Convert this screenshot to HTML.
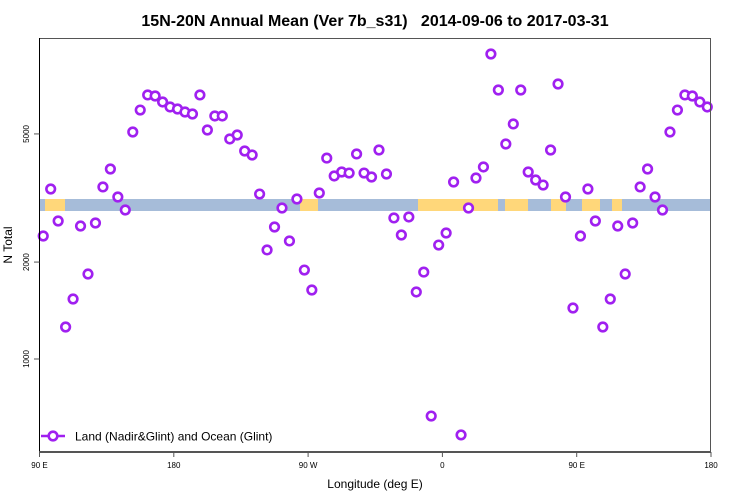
<!DOCTYPE html>
<html><head><meta charset="utf-8"><style>
body{margin:0;background:#fff;font-family:"Liberation Sans",sans-serif}
svg{display:block}
</style></head><body>
<svg id="c" width="750" height="500" font-family="Liberation Sans, sans-serif">
<text x="375" y="26" text-anchor="middle" font-size="16" font-weight="bold">15N-20N Annual Mean (Ver 7b_s31)&#160;&#160;&#160;2014-09-06 to 2017-03-31</text>
<g id="band"></g>
<g id="pts"></g>
<rect x="39.5" y="38.5" width="671" height="413" fill="none" stroke="#555" stroke-width="1"/>
<line x1="39.5" y1="38" x2="39.5" y2="452" stroke="#000"/>
<line x1="39" y1="452" x2="711" y2="452" stroke="#555" stroke-width="2"/>
<g id="xt"></g>
<g id="yt"></g>
<text x="375" y="488" text-anchor="middle" font-size="12">Longitude (deg E)</text>
<text transform="translate(12,245) rotate(-90)" text-anchor="middle" font-size="12">N Total</text>
<g>
<line x1="41" y1="436" x2="65" y2="436" stroke="#a020f0" stroke-width="2.5"/>
<circle cx="53" cy="436" r="4.3" fill="#fff" stroke="#a020f0" stroke-width="2.6"/>
<text x="75" y="440.5" font-size="12">Land (Nadir&amp;Glint) and Ocean (Glint)</text>
</g>
</svg>
<script>
const lons=[];for(let i=0;i<72;i++)lons.push(92.5+5*i);
const values=[2410,3373,2683,1257,1536,2588,1836,2645,3422,3891,3185,2902,5070,5931,6607,6558,6284,6063,5975,5848,5766,6607,5142,5685,5685,4823,4962,4426,4301,3253,2181,2570,2944,2326,3140,1889,1638,3277,4207,3702,3808,3780,4333,3780,3675,4457,3754,2742,2427,2761,1615,1862,665,2259,2462,3546,581,2944,3648,3948,8854,6845,4653,5370,6845,3808,3596,3469,4457,7145,3185,1440];
const xTickVals=[90,180,270,360,450,540];
const xTickLabels=["90 E","180","90 W","0","90 E","180"];
const yTickVals=[1000,2000,5000];
const yTickLabels=["1000","2000","5000"];
const X0=39.5,X1=711,Y1000=359,PPD=322;
const xs=l=>X0+(l-90)/450*(X1-X0);
const ys=v=>Y1000-Math.log10(v/1000)*PPD;
const NS="http://www.w3.org/2000/svg";
function mk(t,a,p){const e=document.createElementNS(NS,t);for(const k in a)e.setAttribute(k,a[k]);p.appendChild(e);return e;}
const band=document.getElementById('band');
mk('rect',{x:39.5,y:199,width:671,height:12,fill:'#a6bcd9'},band);
[[45,65],[300,318],[418,498],[505,528],[551,566],[582,600],[612,622]].forEach(s=>{
 const r=mk('rect',{x:s[0],y:199,width:s[1]-s[0],height:12,fill:'#ffd77a'},band);
 
 
});
const pts=document.getElementById('pts');
values.forEach((v,i)=>{
 [0,360].forEach(off=>{
  const l=lons[i]+off; if(l>540)return;
  const c=mk('circle',{cx:xs(l),cy:ys(v),r:4.3,fill:'#fff',stroke:'#a020f0','stroke-width':2.6},pts);
  
  
 });
});
const xt=document.getElementById('xt');
xTickVals.forEach((t,i)=>{
 const x=xs(t);
 mk('line',{x1:x,y1:452,x2:x,y2:457,stroke:'#555'},xt);
 const tx=mk('text',{x:x,y:468,'text-anchor':'middle','font-size':8},xt);
 tx.textContent=xTickLabels[i];
 
 
});
const yt=document.getElementById('yt');
yTickVals.forEach((t,i)=>{
 const y=ys(t);
 mk('line',{x1:34,y1:y,x2:39.5,y2:y,stroke:'#555'},yt);
 const tx=mk('text',{transform:`translate(29,${y}) rotate(-90)`,'text-anchor':'middle','font-size':8},yt);
 tx.textContent=yTickLabels[i];
 
 
});
</script>
</body></html>
